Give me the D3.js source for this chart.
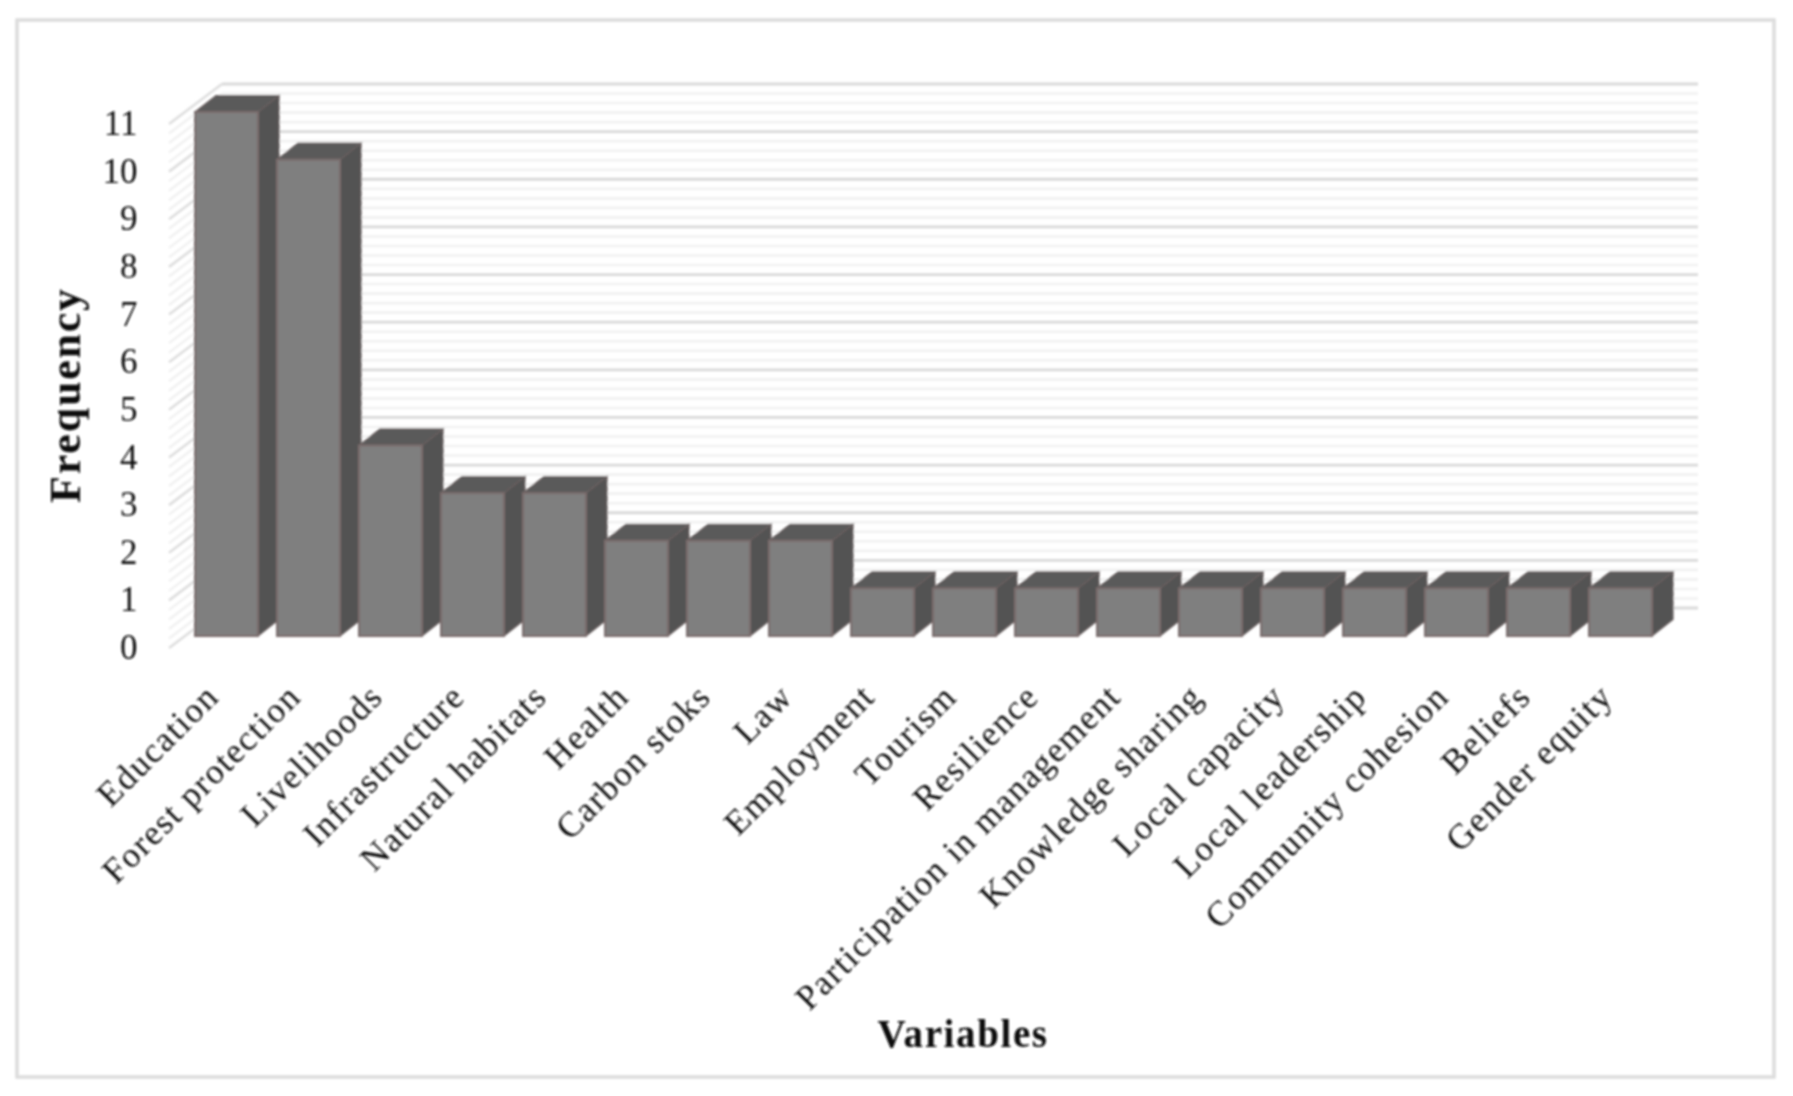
<!DOCTYPE html>
<html>
<head>
<meta charset="utf-8">
<script src="https://cdn.jsdelivr.net/npm/d3@7"></script>
<style>
html,body{margin:0;padding:0;background:#fff;}
svg{display:block;}
text{font-family:"Liberation Serif",serif;fill:#111;}
</style>
</head>
<body>
<svg id="chart" width="1793" height="1096"></svg>
<script>
const categories = ["Education","Forest protection","Livelihoods","Infrastructure","Natural habitats","Health","Carbon stoks","Law","Employment","Tourism","Resilience","Participation in management","Knowledge sharing","Local capacity","Local leadership","Community cohesion","Beliefs","Gender equity"];
const frequencies = [11,10,4,3,3,2,2,2,1,1,1,1,1,1,1,1,1,1];
const yTicks = [0,1,2,3,4,5,6,7,8,9,10,11];
const minorPerMajor = 5;

const svg = d3.select("#chart");
const defs = svg.append("defs");
defs.append("filter").attr("id","soft").attr("x","-5%").attr("y","-5%").attr("width","110%").attr("height","110%")
  .append("feGaussianBlur").attr("stdDeviation",0.85);
const root = svg.append("g").attr("filter","url(#soft)");

root.append("rect").attr("x",17).attr("y",20).attr("width",1757).attr("height",1057)
  .attr("fill","none").attr("stroke","#dcdcdc").attr("stroke-width",3.5);

const wall = {dx:53, dy:-40};
const barShift = {dx:16.5, dy:-12};
const barDepth = {dx:21, dy:-16.5};

const x = d3.scaleBand().domain(categories).range([169,1645]).paddingInner(0.232).paddingOuter(0.116);
const y = d3.scaleLinear().domain([0,11]).range([648,124]);

// grid: minor values on back wall and side wall
const gridVals = [];
for (let v=0; v<=11*minorPerMajor; v++) gridVals.push(v/minorPerMajor);
const isMajor = v => Math.abs(v-Math.round(v))<1e-6;
const grid = root.append("g");
const ordered = gridVals.filter(v=>!isMajor(v)).concat(gridVals.filter(isMajor));
grid.selectAll("line.back").data(ordered).join("line").attr("class","back")
  .attr("x1",169+wall.dx).attr("x2",1645+wall.dx)
  .attr("y1",d=>y(d)+wall.dy).attr("y2",d=>y(d)+wall.dy)
  .attr("stroke",d=>isMajor(d)?"#d9d9d9":"#f1f1f1")
  .attr("stroke-width",d=>isMajor(d)?2.8:2.6);
grid.selectAll("line.side").data(ordered).join("line").attr("class","side")
  .attr("x1",169).attr("x2",169+wall.dx)
  .attr("y1",d=>y(d)).attr("y2",d=>y(d)+wall.dy)
  .attr("stroke",d=>isMajor(d)?"#dedede":"#f1f1f1")
  .attr("stroke-width",d=>isMajor(d)?2.6:2.4);

// bars
const rows = categories.map((c,i)=>({c,v:frequencies[i]}));
const bars = root.append("g").selectAll("g").data(rows).join("g");
const strokeCol = "#7a6c6c";
bars.each(function(d){
  const g = d3.select(this);
  const x0 = x(d.c)+barShift.dx, w = x.bandwidth();
  const t = y(d.v)+barShift.dy, b = y(0)+barShift.dy;
  const dx = barDepth.dx, dy = barDepth.dy;
  const poly = pts => pts.map(p=>p.join(",")).join(" ");
  g.append("polygon").attr("points",poly([[x0+w,t],[x0+w+dx,t+dy],[x0+w+dx,b+dy],[x0+w,b]]))
    .attr("fill","#525252").attr("stroke","#6a6060").attr("stroke-width",1.2);
  g.append("polygon").attr("points",poly([[x0,t],[x0+dx,t+dy],[x0+w+dx,t+dy],[x0+w,t]]))
    .attr("fill","#5a5a5a").attr("stroke","#6a6060").attr("stroke-width",1.2);
  g.append("rect").attr("x",x0).attr("y",t).attr("width",w).attr("height",b-t)
    .attr("fill","#7f7f7f").attr("stroke",strokeCol).attr("stroke-width",2);
});

// y axis
const yAxis = root.append("g").attr("transform","translate(137.5,-1)")
  .call(d3.axisLeft(y).tickValues(yTicks).tickSize(0).tickPadding(0).tickFormat(d3.format("d")));
yAxis.select(".domain").remove();
yAxis.selectAll("text").style("font-family",'"Liberation Serif",serif').style("font-size","35px").attr("fill","#222").attr("dy","0.33em");

// x axis
const xAxis = root.append("g").attr("transform","translate(0,690)")
  .call(d3.axisBottom(x).tickSize(0).tickPadding(0));
xAxis.select(".domain").remove();
xAxis.selectAll("text")
  .style("font-family",'"Liberation Serif",serif').style("font-size","35px").attr("fill","#111")
  .style("letter-spacing","1.5px")
  .attr("text-anchor","end").attr("dy","0.35em").attr("y",0)
  .attr("transform",function(){return "translate(2,0) rotate(-45)";});

root.append("text").attr("x",963).attr("y",1047).attr("text-anchor","middle")
  .style("font-size","39px").style("font-weight","700").style("letter-spacing","1.6px").text("Variables");
root.append("text").attr("transform","translate(80,395) rotate(-90)").attr("text-anchor","middle")
  .style("font-size","44px").style("font-weight","700").style("letter-spacing","1.8px").text("Frequency");
</script>
</body>
</html>
